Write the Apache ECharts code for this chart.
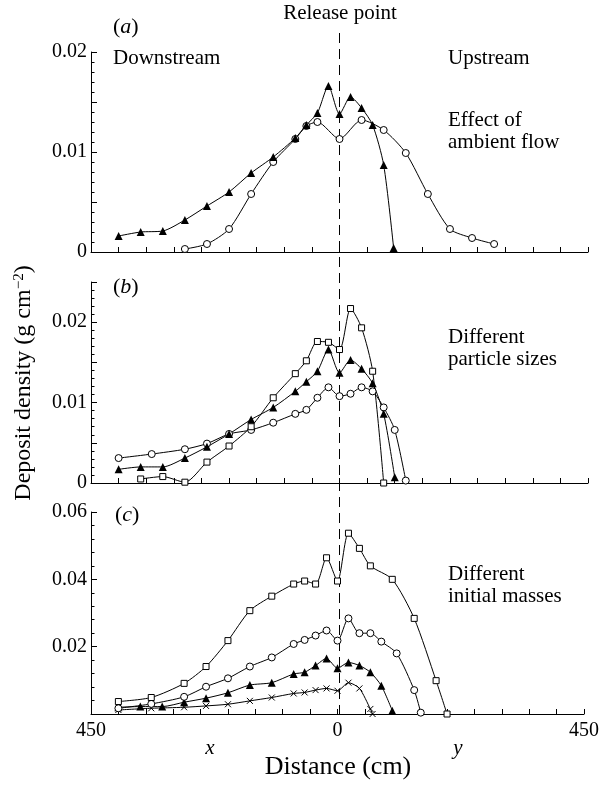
<!DOCTYPE html>
<html>
<head>
<meta charset="utf-8">
<script src="https://cdn.jsdelivr.net/npm/echarts@6/dist/echarts.min.js"></script>
<style>
html, body { margin: 0; padding: 0; background: #fff; }
#chart { width: 602px; height: 788px; }
</style>
</head>
<body>
<div id="chart"></div>
<script>
// panel (a): effect of ambient flow
var aTriX = [-400, -360, -320, -280, -240, -200, -160, -120, -80, -60, -40, -20, 0, 20, 40, 60, 80, 98];
var aTriY = [0.0016, 0.0020, 0.0021, 0.0032, 0.0046, 0.0060, 0.0079, 0.0095, 0.0114, 0.0127, 0.0139, 0.0166, 0.0138, 0.0155, 0.0144, 0.0127, 0.0087, 0.0004];
var aCirX = [-280, -240, -200, -160, -120, -80, -60, -40, 0, 40, 80, 120, 160, 200, 240, 280];
var aCirY = [0.0003, 0.0008, 0.0023, 0.0058, 0.0090, 0.0113, 0.0126, 0.0130, 0.0113, 0.0132, 0.0122, 0.0099, 0.0058, 0.0023, 0.0014, 0.0008];

// panel (b): different particle sizes
var bSqX = [-360, -320, -280, -240, -200, -160, -120, -80, -60, -40, -20, 0, 20, 40, 60, 80];
var bSqY = [0.0005, 0.0008, 0.0001, 0.0026, 0.0046, 0.0070, 0.0106, 0.0136, 0.0152, 0.0176, 0.0175, 0.0166, 0.0217, 0.0193, 0.0139, 0.0];
var bTriX = [-400, -360, -320, -280, -240, -200, -160, -120, -80, -60, -40, -20, 0, 20, 40, 60, 80, 100];
var bTriY = [0.0017, 0.0020, 0.0020, 0.0031, 0.0045, 0.0061, 0.0079, 0.0094, 0.0114, 0.0126, 0.0139, 0.0166, 0.0137, 0.0153, 0.0142, 0.0124, 0.0086, 0.0007];
var bCirX = [-400, -340, -280, -240, -200, -160, -120, -80, -60, -40, -20, 0, 20, 40, 60, 80, 100, 120];
var bCirY = [0.0031, 0.0036, 0.0042, 0.0049, 0.0061, 0.0066, 0.0075, 0.0086, 0.0091, 0.0106, 0.0119, 0.0108, 0.0111, 0.0119, 0.0114, 0.0094, 0.0066, 0.0003];

// panel (c): different initial masses
var cSqX = [-400, -340, -280, -240, -200, -160, -120, -80, -60, -40, -20, 0, 20, 40, 60, 100, 140, 180, 200];
var cSqY = [0.0037, 0.0049, 0.0091, 0.0141, 0.0218, 0.0307, 0.0350, 0.0386, 0.0395, 0.0386, 0.0464, 0.0395, 0.0537, 0.0492, 0.0440, 0.0400, 0.0284, 0.0099, 0.0];
var cCirX = [-400, -340, -280, -240, -200, -160, -120, -80, -60, -40, -20, 0, 20, 40, 60, 80, 108, 140, 152];
var cCirY = [0.0017, 0.0030, 0.0051, 0.0081, 0.0106, 0.0141, 0.0168, 0.0208, 0.0220, 0.0233, 0.0248, 0.0218, 0.0284, 0.0240, 0.0240, 0.0215, 0.0180, 0.0071, 0.0004];
var cTriX = [-400, -360, -320, -280, -240, -200, -160, -120, -80, -60, -40, -20, 0, 20, 40, 60, 80, 100];
var cTriY = [0.0020, 0.0022, 0.0022, 0.0035, 0.0047, 0.0063, 0.0086, 0.0093, 0.0119, 0.0124, 0.0144, 0.0165, 0.0136, 0.0153, 0.0144, 0.0124, 0.0084, 0.0010];
var cCrX = [-400, -340, -280, -240, -200, -160, -120, -80, -60, -40, -20, 0, 20, 40, 60, 64];
var cCrY = [0.0012, 0.0017, 0.0020, 0.0024, 0.0029, 0.0039, 0.0049, 0.0061, 0.0064, 0.0071, 0.0076, 0.0069, 0.0093, 0.0076, 0.0015, 0.0];

// axis ranges and labels
var xMin = -450, xMax = 450;
var yMaxes = [0.02, 0.025, 0.06];
var yIntervals = [0.005, 0.005, 0.02];
var yMinorSplits = [5, 5, 5];
var yLabelValues = [[0, 0.01, 0.02], [0, 0.01, 0.02], [0.02, 0.04, 0.06]];
var xLabelValues = [-450, 0, 450];

var FONT = 'Liberation Serif';

function zip(xs, ys) {
	return xs.map(function(x, i) { return [x, ys[i]]; });
}

var crossPath = 'path://M0,0L10,10M10,0L0,10';

function makeSeries(idx, xs, ys, kind) {
	var s = {
		type: 'line',
		xAxisIndex: idx,
		yAxisIndex: idx,
		data: zip(xs, ys),
		smooth: 0.25,
		lineStyle: { color: '#000', width: 1 },
		symbolSize: 7,
		z: 3,
		animation: false
	};
	if (kind === 'tri') {
		s.symbol = 'triangle';
		s.symbolSize = 8;
		s.itemStyle = { color: '#000', borderColor: '#000', borderWidth: 0 };
	} else if (kind === 'cir') {
		s.symbol = 'circle';
		s.itemStyle = { color: '#fff', borderColor: '#000', borderWidth: 1 };
	} else if (kind === 'sq') {
		s.symbol = 'rect';
		s.symbolSize = 6;
		s.itemStyle = { color: '#fff', borderColor: '#000', borderWidth: 1 };
	} else {
		s.symbol = crossPath;
		s.symbolSize = 6;
		s.itemStyle = { color: 'none', borderColor: '#000', borderWidth: 1 };
	}
	return s;
}

var gridTops = [52, 282, 512];
var gridHeights = [200, 201, 202];

var grids = gridTops.map(function(t, i) {
	return { left: 91, right: 14, top: t, height: gridHeights[i] };
});

var xAxes = [0, 1, 2].map(function(i) {
	return {
		type: 'value',
		gridIndex: i,
		min: xMin,
		max: xMax,
		interval: 50,
		axisLine: { onZero: false, lineStyle: { color: '#000', width: 1 } },
		axisTick: { inside: true, length: 5, lineStyle: { color: '#000' } },
		splitLine: { show: false },
		axisLabel: {
			show: i === 2,
			color: '#000',
			fontFamily: FONT,
			fontSize: 20,
			margin: 7,
			formatter: function(v) {
				return xLabelValues.indexOf(v) >= 0 ? String(Math.abs(v)) : '';
			}
		}
	};
});

var yAxes = [0, 1, 2].map(function(i) {
	return {
		type: 'value',
		gridIndex: i,
		min: 0,
		max: yMaxes[i],
		interval: yIntervals[i],
		axisLine: { show: true, onZero: false, lineStyle: { color: '#000', width: 1 } },
		axisTick: { inside: true, length: 6, lineStyle: { color: '#000' } },
		minorTick: { show: true, splitNumber: yMinorSplits[i], length: 3.5, lineStyle: { color: '#000' } },
		splitLine: { show: false },
		axisLabel: {
			color: '#000',
			fontFamily: FONT,
			fontSize: 20,
			margin: 4,
			formatter: function(v) {
				var r = Math.round(v * 1000) / 1000;
				var ok = yLabelValues[i].some(function(l) { return Math.abs(l - r) < 1e-9; });
				if (!ok) return '';
				return r === 0 ? '0' : r.toFixed(2);
			}
		}
	};
});

var series = [
	makeSeries(0, aCirX, aCirY, 'cir'),
	makeSeries(0, aTriX, aTriY, 'tri'),
	makeSeries(1, bCirX, bCirY, 'cir'),
	makeSeries(1, bTriX, bTriY, 'tri'),
	makeSeries(1, bSqX, bSqY, 'sq'),
	makeSeries(2, cCrX, cCrY, 'cross'),
	makeSeries(2, cTriX, cTriY, 'tri'),
	makeSeries(2, cCirX, cCirY, 'cir'),
	makeSeries(2, cSqX, cSqY, 'sq')
];

function txt(x, y, text, opts) {
	opts = opts || {};
	return {
		type: 'text',
		x: x,
		y: y,
		rotation: opts.rotation || 0,
		z: 10,
		style: {
			text: text,
			fontFamily: FONT,
			fontSize: opts.size || 21,
			fontStyle: opts.italic ? 'italic' : 'normal',
			fill: '#000',
			align: opts.align || 'left',
			verticalAlign: 'middle',
			rich: opts.rich
		}
	};
}

var italicRich = { i: { fontStyle: 'italic', fontFamily: FONT, fontSize: 22 } };

var labels = [
	txt(340, 13, 'Release point', { align: 'center' }),
	txt(113, 27, '({i|a})', { size: 22, rich: italicRich }),
	txt(113, 58, 'Downstream'),
	txt(448, 58, 'Upstream'),
	txt(448, 120, 'Effect of'),
	txt(448, 142, 'ambient flow'),
	txt(113, 287, '({i|b})', { size: 22, rich: italicRich }),
	txt(448, 337, 'Different'),
	txt(448, 359, 'particle sizes'),
	txt(115, 515, '({i|c})', { size: 22, rich: italicRich }),
	txt(448, 574, 'Different'),
	txt(448, 596, 'initial masses'),
	txt(210, 748, 'x', { align: 'center', italic: true }),
	txt(458, 748, 'y', { align: 'center', italic: true }),
	txt(338, 767, 'Distance (cm)', { align: 'center', size: 26 }),
	txt(24, 383, 'Deposit density (g cm{sup|\u22122})', {
		align: 'center',
		size: 24,
		rotation: Math.PI / 2,
		rich: { sup: { fontFamily: FONT, fontSize: 15, verticalAlign: 'top', padding: [0, 0, 10, 0] } }
	})
];

var chart = echarts.init(document.getElementById('chart'), null, { renderer: 'canvas' });

chart.setOption({
	backgroundColor: '#fff',
	animation: false,
	grid: grids,
	xAxis: xAxes,
	yAxis: yAxes,
	series: series,
	graphic: labels
});

// dashed release line at x = 0, running through all three panels
var x0 = chart.convertToPixel({ xAxisIndex: 0 }, 0);
var yBottom = chart.convertToPixel({ yAxisIndex: 2 }, 0);
labels.push({
	type: 'line',
	z: 1,
	shape: { x1: x0, y1: 33, x2: x0, y2: yBottom },
	style: { stroke: '#000', lineWidth: 1, lineDash: [10, 6] }
});
chart.setOption({ graphic: labels });
</script>
</body>
</html>
